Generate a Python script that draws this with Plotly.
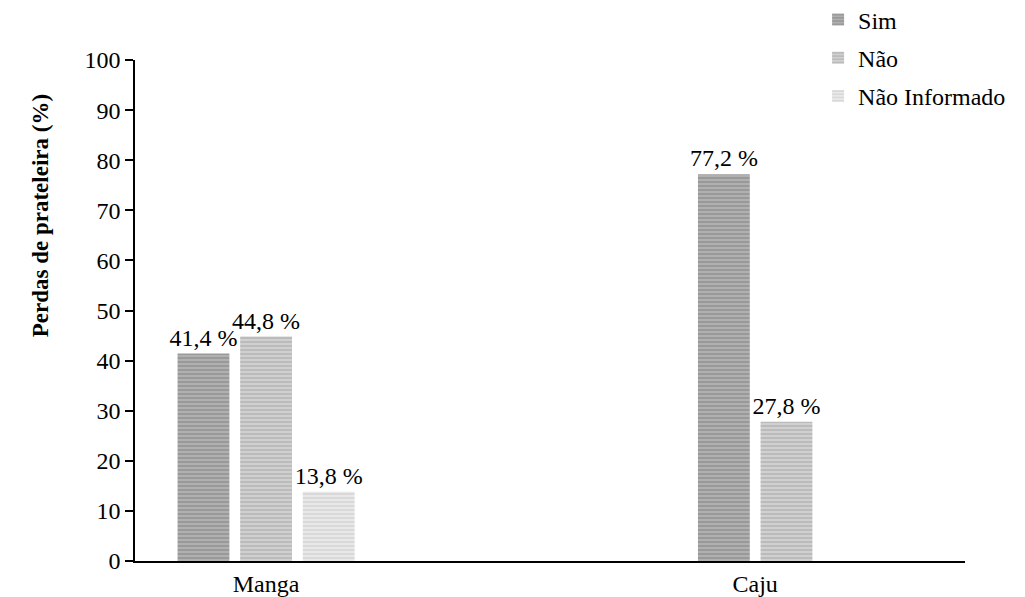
import plotly.graph_objects as go

# Shelf-loss survey: share of answers per fruit
categories = ["Manga", "Caju"]
series_names = ["Sim", "Não", "Não Informado"]
sim_values = [41.4, 77.2]
nao_values = [44.8, 27.8]
nao_informado_values = [13.8, None]  # no answer recorded for Caju

y_ticks = [0, 10, 20, 30, 40, 50, 60, 70, 80, 90, 100]
y_title = "Perdas de prateleira (%)"

series_values = [sim_values, nao_values, nao_informado_values]
pattern_styles = [
    dict(fg="#7c7c7c", bg="#b0b0b0"),
    dict(fg="#a2a2a2", bg="#d0d0d0"),
    dict(fg="#c8c8c8", bg="#e8e8e8"),
]

FONT = "Liberation Serif"
TEXT_SIZE = 24
bar_step = 0.128
bar_width = 0.106

fig = go.Figure()

# Bars in each category are centred on the category position,
# counting only the series that have a value there.
for s_idx, (name, values, style) in enumerate(zip(series_names, series_values, pattern_styles)):
    xs, ys, texts = [], [], []
    for c_idx, val in enumerate(values):
        present = [k for k in range(len(series_values)) if series_values[k][c_idx] is not None]
        if val is None:
            continue
        pos = present.index(s_idx)
        offset = (pos - (len(present) - 1) / 2) * bar_step
        xs.append(c_idx + offset)
        ys.append(val)
        texts.append(f"{val:.1f}".replace(".", ",") + " %")
    fig.add_trace(go.Bar(
        x=xs, y=ys, name=name, width=bar_width,
        text=texts, textposition="outside", cliponaxis=False,
        constraintext="none",
        textfont=dict(family=FONT, size=TEXT_SIZE, color="#000000"),
        marker=dict(
            color=style["bg"],
            line=dict(width=0),
            pattern=dict(shape="-", fgcolor=style["fg"], bgcolor=style["bg"],
                         size=4, solidity=0.45, fillmode="overlay"),
        ),
        legendgroup=name,
    ))

fig.update_layout(
    width=1025, height=597,
    margin=dict(l=135, r=60, t=60, b=36, autoexpand=False),
    paper_bgcolor="white", plot_bgcolor="white",
    barmode="overlay",
    font=dict(family=FONT, size=TEXT_SIZE, color="#000000"),
    showlegend=True,
    legend=dict(
        x=0.823, y=1.125, xanchor="left", yanchor="top",
        bgcolor="rgba(0,0,0,0)", font=dict(family=FONT, size=TEXT_SIZE, color="#000000"),
        tracegroupgap=4, itemwidth=30,
    ),
    xaxis=dict(
        range=[-0.268, 1.429],
        tickvals=[0, 1], ticktext=categories,
        showline=True, linecolor="#000000", linewidth=1.5,
        ticks="", showgrid=False, zeroline=False,
        tickfont=dict(family=FONT, size=TEXT_SIZE, color="#000000"),
    ),
    yaxis=dict(
        range=[0, 100], tickvals=y_ticks,
        showline=True, linecolor="#000000", linewidth=1.5,
        ticks="outside", ticklen=8, tickcolor="#000000", tickwidth=1.5,
        showgrid=False, zeroline=False,
        tickfont=dict(family=FONT, size=TEXT_SIZE, color="#000000"),
    ),
)

# Vertical axis title, set in the upper part of the axis
fig.add_annotation(
    text=f"<b>{y_title}</b>", textangle=-90,
    xref="paper", yref="paper", x=-0.1145, y=0.69,
    xanchor="center", yanchor="middle", showarrow=False,
    font=dict(family=FONT, size=23, color="#000000"),
)

fig.write_html("out.html")
